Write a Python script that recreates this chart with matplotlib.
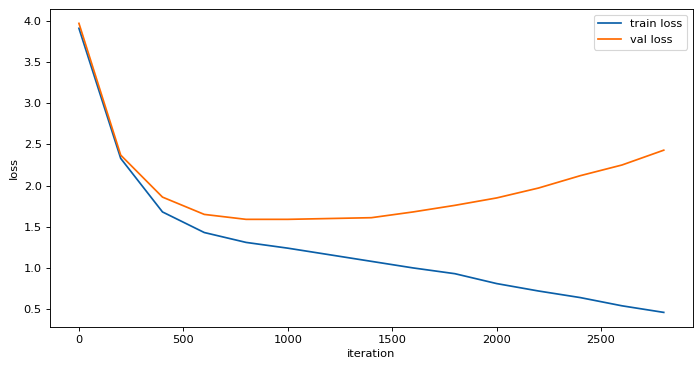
import matplotlib
matplotlib.use("Agg")
import matplotlib.pyplot as plt

iterations = [0, 200, 400, 600, 800, 1000, 1200, 1400, 1600, 1800, 2000, 2200, 2400, 2600, 2800]
train_loss = [3.91, 2.33, 1.68, 1.43, 1.31, 1.24, 1.16, 1.08, 1.00, 0.93, 0.81, 0.72, 0.64, 0.54, 0.46]
val_loss = [3.97, 2.37, 1.86, 1.65, 1.59, 1.59, 1.60, 1.61, 1.68, 1.76, 1.85, 1.97, 2.12, 2.25, 2.43]

DPI = 700 / 8.5
fig = plt.figure(figsize=(8.5, 371 / DPI), dpi=DPI)
ax = fig.add_axes([0.071, 0.119, 0.919, 0.857])
ax.plot(iterations, train_loss, color="#0a5fa8", label="train loss", lw=1.5)
ax.plot(iterations, val_loss, color="#ff6a00", label="val loss", lw=1.5)
ax.set_xlabel("iteration")
ax.set_ylabel("loss")
ax.legend(loc="upper right")
fig.savefig("out.png", dpi=DPI)
